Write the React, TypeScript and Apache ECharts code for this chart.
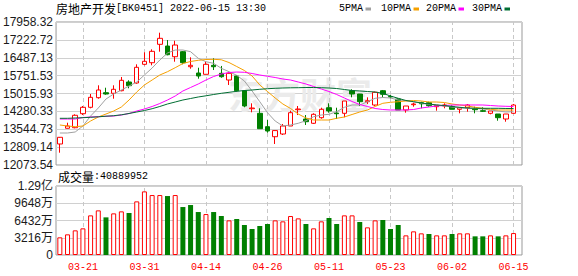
import React, { useEffect, useRef } from "react";
import * as echarts from "echarts";

const dates = [
  "03-16", "03-17", "03-18", "03-21", "03-22", "03-23", "03-24", "03-25", "03-28", "03-29",
  "03-30", "03-31", "04-01", "04-06", "04-07", "04-08", "04-11", "04-12", "04-13", "04-14",
  "04-15", "04-18", "04-19", "04-20", "04-21", "04-22", "04-25", "04-26", "04-27", "04-28",
  "04-29", "05-05", "05-06", "05-09", "05-10", "05-11", "05-12", "05-13", "05-16", "05-17",
  "05-18", "05-19", "05-20", "05-23", "05-24", "05-25", "05-26", "05-27", "05-30", "05-31",
  "06-01", "06-02", "06-06", "06-07", "06-08", "06-09", "06-10", "06-13", "06-14", "06-15",
];

const opens = [
  12938, 13584, 13608, 14185, 14448, 14843, 15049, 15024, 15131, 15489,
  15448, 16217, 16283, 17040, 16970, 16530, 16736, 16118, 15859, 15806,
  16176, 15847, 15571, 15736, 15131, 14390, 14201, 13650, 13238, 13349,
  13678, 14349, 13966, 13790, 14020, 14431, 14213, 14201, 15131, 14995,
  14678, 14542, 15131, 14892, 14790, 14337, 14555, 14637, 14637, 14473,
  14500, 14473, 14366, 14431, 14378, 14308, 14201, 14172, 13966, 14201,
];
const closes = [
  13213, 13678, 14119, 14448, 14859, 15160, 14995, 15189, 15559, 15337,
  16094, 16341, 16752, 17287, 16612, 17011, 16283, 16176, 15736, 16217,
  16118, 15707, 15847, 15131, 14501, 14419, 13567, 13473, 13490, 13678,
  14226, 14378, 13855, 14160, 14366, 14296, 14184, 14707, 14995, 14678,
  14719, 15065, 14983, 14872, 14337, 14501, 14584, 14592, 14514, 14530,
  14545, 14366, 14431, 14542, 14349, 14283, 14296, 14020, 14172, 14542,
];
const lows = [
  12580, 13575, 13584, 14131, 14406, 14802, 14966, 14802, 15106, 15230,
  15419, 16176, 16176, 16736, 16588, 16324, 16217, 16036, 15625, 15806,
  15982, 15666, 15366, 15090, 14448, 14242, 13567, 13403, 12938, 13308,
  13678, 14131, 13720, 13761, 13979, 14226, 13966, 14036, 14859, 14501,
  14584, 14501, 14859, 14818, 14337, 14226, 14473, 14407, 14473, 14308,
  14407, 14366, 14201, 14269, 14201, 14254, 14160, 13896, 13855, 14184,
];
const highs = [
  13225, 13814, 14160, 14501, 14995, 15353, 15254, 15353, 15695, 15559,
  16217, 16711, 16834, 17518, 17217, 17188, 16765, 16505, 16077, 16324,
  16464, 16150, 15900, 15777, 15160, 14612, 14407, 13925, 13490, 13761,
  14308, 14501, 14131, 14201, 14431, 14612, 14431, 14707, 15189, 14995,
  14859, 15090, 15160, 14954, 14818, 14501, 14637, 14678, 14678, 14542,
  14612, 14530, 14460, 14584, 14473, 14448, 14296, 14172, 14172, 14584,
];

const ma5 = [
  13390, 13390, 13432, 13678, 14090, 14419, 14789, 14995, 15160, 15324,
  15489, 15777, 16065, 16394, 16682, 16806, 16806, 16736, 16464, 16324,
  16258, 16053, 15913, 15765, 15530, 15119, 14678, 14226, 13884, 13678,
  13720, 13790, 13897, 14061, 14131, 14160, 14267, 14448, 14543, 14543,
  14678, 14818, 14851, 14831, 14748, 14720, 14678, 14613, 14563, 14543,
  14501, 14460, 14419, 14407, 14407, 14378, 14337, 14296, 14254, 14267,
];
const ma10 = [
  13720, 13678, 13650, 13678, 13884, 14049, 14172, 14296, 14460, 14748,
  15078, 15366, 15571, 15777, 15913, 16077, 16250, 16333, 16382, 16415,
  16423, 16403, 16291, 16127, 15962, 15736, 15366, 15098, 14831, 14584,
  14399, 14172, 14008, 13925, 13925, 13925, 13995, 14049, 14152, 14254,
  14337, 14481, 14613, 14654, 14678, 14707, 14728, 14707, 14666, 14666,
  14645, 14584, 14543, 14501, 14448, 14407, 14366, 14337, 14337, 14337,
];
const ma20 = [
  13966, 13966, 13966, 14028, 14049, 14061, 14078, 14090, 14131, 14193,
  14296, 14378, 14481, 14604, 14748, 14913, 15119, 15263, 15407, 15571,
  15715, 15818, 15880, 15900, 15888, 15839, 15777, 15724, 15674, 15612,
  15571, 15489, 15407, 15304, 15201, 15098, 14975, 14831, 14687, 14563,
  14481, 14399, 14357, 14337, 14337, 14337, 14357, 14419, 14460, 14501,
  14522, 14543, 14543, 14543, 14543, 14543, 14522, 14501, 14489, 14481,
];
const ma30 = [
  13995, 13995, 14008, 14020, 14036, 14057, 14082, 14102, 14139, 14193,
  14254, 14316, 14390, 14481, 14584, 14666, 14748, 14810, 14872, 14921,
  14975, 15024, 15065, 15106, 15139, 15160, 15189, 15213, 15230, 15242,
  15250, 15254, 15263, 15263, 15254, 15242, 15221, 15181, 15139, 15119,
  15098, 15078, 15024, 14913, 14818, 14728, 14678, 14625, 14584, 14543,
  14522, 14481, 14448, 14419, 14407, 14407, 14407, 14407, 14399, 14399,
];

const volumes = [
  32920000, 38500000, 45950000, 49680000, 73900000, 83210000, 70170000, 77630000, 81350000, 78250000,
  99980000, 118610000, 111780000, 111780000, 109920000, 111780000, 89420000, 93150000, 80110000, 76380000,
  80110000, 72660000, 64580000, 67070000, 55890000, 48440000, 54030000, 57750000, 64580000, 62720000,
  72660000, 68310000, 57750000, 49680000, 62720000, 68930000, 57750000, 73900000, 73900000, 61480000,
  51540000, 64580000, 65210000, 48440000, 55890000, 36640000, 44090000, 40370000, 39120000, 36640000,
  36640000, 39120000, 40370000, 40370000, 34780000, 34780000, 36640000, 34780000, 36640000, 40889952,
];
// 1 = red (up), -1 = green (down)
const volumeDir = [
  1, 1, 1, 1, 1, 1, -1, 1, 1, -1,
  1, 1, 1, 1, -1, 1, -1, -1, -1, 1,
  -1, -1, 1, -1, -1, -1, -1, -1, 1, 1,
  1, 1, -1, 1, 1, -1, -1, 1, 1, -1,
  1, 1, -1, -1, -1, 1, 1, 1, -1, 1,
  1, -1, 1, 1, -1, -1, 1, -1, 1, 1,
];

const priceTicks = [12073.54, 12809.14, 13544.73, 14280.33, 15015.93, 15751.53, 16487.13, 17222.72, 17958.32];
const volumeTicks = [0, 32160000, 64320000, 96480000, 128640000];
const volumeTickLabels = ["0", "3216万", "6432万", "9648万", "1.29亿"];
const xTickDates = ["03-21", "03-31", "04-14", "04-26", "05-11", "05-23", "06-02", "06-15"];

const maNames = ["5PMA", "10PMA", "20PMA", "30PMA"];
const maColors = ["#a0a0a0", "#f5a000", "#ff00ff", "#006e33"];
const maSeries = [ma5, ma10, ma20, ma30];

const titleName = "房地产开发";
const titleCode = "[BK0451] 2022-06-15 13:30";
const volumeTitle = "成交量";

const UP = "#ff0000";
const DOWN = "#008000";
const MONO = "Liberation Mono, DejaVu Sans Mono, monospace";
const CJK = "Noto Sans CJK SC";
const SANS = "Liberation Sans, Arial, Noto Sans CJK SC, sans-serif";

export default function App() {
  const ref = useRef<HTMLDivElement>(null);

  useEffect(() => {
    if (!ref.current) return;
    const chart = echarts.init(ref.current, undefined, { renderer: "svg" });

    const priceMin = priceTicks[0];
    const priceMax = priceTicks[priceTicks.length - 1];
    const priceStep = (priceMax - priceMin) / (priceTicks.length - 1);
    const volMax = volumeTicks[volumeTicks.length - 1];
    const volStep = volMax / (volumeTicks.length - 1);

    const plotLeft = 56;
    const frameW = 466;
    const dataW = 461.4;
    const mainTop = 22;
    const mainH = 143;
    const volTop = 186;
    const volH = 69;

    const dashLines = {
      silent: true,
      symbol: ["none", "none"],
      label: { show: false },
      lineStyle: { type: [4, 3], color: "#c8c8c8", width: 1 },
      emphasis: { disabled: true },
      animation: false,
      z: 1,
      data: xTickDates.map((d) => ({ xAxis: d })),
    };

    const legendStarts = [339, 381, 426, 472];
    const legendGraphics: any[] = [];
    maNames.forEach((name, i) => {
      legendGraphics.push({
        type: "text",
        x: legendStarts[i],
        y: 8.5,
        style: {
          text: name,
          fontFamily: MONO,
          fontSize: 10,
          fill: "#000",
          textVerticalAlign: "middle",
        },
      });
      legendGraphics.push({
        type: "rect",
        shape: { x: legendStarts[i] + name.length * 6 + 2.5, y: 7.5, width: 5.5, height: 3 },
        style: { fill: maColors[i] },
      });
    });

    const option: any = {
      animation: false,
      backgroundColor: "#ffffff",
      grid: [
        { left: plotLeft, top: mainTop, width: frameW, height: mainH, show: true, borderColor: "#999999", borderWidth: 1, backgroundColor: "transparent" },
        { left: plotLeft, top: mainTop, width: dataW, height: mainH },
        { left: plotLeft, top: volTop, width: frameW, height: volH, show: true, borderColor: "#999999", borderWidth: 1, backgroundColor: "transparent" },
        { left: plotLeft, top: volTop, width: dataW, height: volH },
      ],
      xAxis: [
        { type: "value", gridIndex: 0, min: 0, max: 1, show: false },
        {
          type: "category", gridIndex: 1, data: dates, boundaryGap: true,
          axisLine: { show: false }, axisTick: { show: false }, axisLabel: { show: false }, splitLine: { show: false },
        },
        { type: "value", gridIndex: 2, min: 0, max: 1, show: false },
        {
          type: "category", gridIndex: 3, data: dates, boundaryGap: true,
          axisLine: { show: false }, axisTick: { show: false }, splitLine: { show: false },
          axisLabel: {
            show: true,
            interval: (_idx: number, val: string) => xTickDates.includes(val),
            color: UP,
            fontFamily: MONO,
            fontSize: 10,
            margin: 7,
          },
        },
      ],
      yAxis: [
        {
          type: "value", gridIndex: 0, min: priceMin, max: priceMax, interval: priceStep,
          axisLine: { show: false }, axisTick: { show: false },
          axisLabel: {
            margin: 3,
            fontSize: 12,
            fontFamily: SANS,
            color: "#1a1a1a",
            formatter: (v: number) => {
              const k = Math.round((v - priceMin) / priceStep);
              return priceTicks[k] !== undefined ? priceTicks[k].toFixed(2) : "";
            },
          },
          splitLine: { show: true, lineStyle: { color: "#d0d0d0", width: 1 } },
        },
        { type: "value", gridIndex: 1, min: priceMin, max: priceMax, show: false, splitLine: { show: false } },
        {
          type: "value", gridIndex: 2, min: 0, max: volMax, interval: volStep,
          axisLine: { show: false }, axisTick: { show: false },
          axisLabel: {
            margin: 3,
            fontSize: 12,
            fontFamily: SANS,
            color: "#1a1a1a",
            formatter: (v: number) => {
              const k = Math.round(v / volStep);
              return volumeTickLabels[k] !== undefined ? volumeTickLabels[k] : "";
            },
          },
          splitLine: { show: true, lineStyle: { color: "#d0d0d0", width: 1 } },
        },
        { type: "value", gridIndex: 3, min: 0, max: volMax, show: false, splitLine: { show: false } },
      ],
      graphic: [
        {
          type: "text",
          x: 228,
          y: 93,
          z: 1,
          silent: true,
          style: {
            text: "东方财富",
            fontFamily: CJK,
            fontSize: 36,
            fontWeight: "bold",
            fill: "#ebebeb",
            textVerticalAlign: "middle",
          },
        },
        {
          type: "text",
          x: 56,
          y: 8.5,
          style: {
            text: "{a|" + titleName + "}{b|" + titleCode + "}",
            rich: {
              a: { fontFamily: CJK, fontSize: 12, fill: "#000" },
              b: { fontFamily: MONO, fontSize: 10, fill: "#000" },
            },
            textVerticalAlign: "middle",
          },
        },
        {
          type: "text",
          x: 58,
          y: 176.5,
          style: {
            text: "{a|" + volumeTitle + "}{b|:" + String(volumes[volumes.length - 1]) + "}",
            rich: {
              a: { fontFamily: CJK, fontSize: 12, fill: "#000" },
              b: { fontFamily: MONO, fontSize: 10, fill: "#000" },
            },
            textVerticalAlign: "middle",
          },
        },
        ...legendGraphics,
      ],
      series: [
        {
          type: "candlestick",
          name: "K",
          xAxisIndex: 1,
          yAxisIndex: 1,
          barWidth: 5,
          data: dates.map((_, i) => [opens[i], closes[i], lows[i], highs[i]]),
          itemStyle: {
            color: "#ffffff",
            color0: DOWN,
            borderColor: UP,
            borderColor0: DOWN,
            borderWidth: 1,
          },
          markLine: dashLines,
        },
        ...maSeries.map((arr, i) => ({
          type: "line",
          name: maNames[i],
          xAxisIndex: 1,
          yAxisIndex: 1,
          data: arr,
          showSymbol: false,
          symbol: "none",
          smooth: false,
          lineStyle: { color: maColors[i], width: 1 },
          itemStyle: { color: maColors[i] },
        })),
        {
          type: "bar",
          name: "VOL",
          xAxisIndex: 3,
          yAxisIndex: 3,
          barWidth: 5,
          data: volumes.map((v, i) => ({
            value: v,
            itemStyle:
              volumeDir[i] > 0
                ? { color: "#ffffff", borderColor: UP, borderWidth: 1 }
                : { color: DOWN, borderColor: DOWN, borderWidth: 0 },
          })),
          markLine: dashLines,
        },
      ],
    };

    chart.setOption(option);
    return () => {
      chart.dispose();
    };
  }, []);

  return (
    <div
      ref={ref}
      style={{ position: "absolute", left: 0, top: 0, width: 578, height: 276, background: "#fff" }}
    />
  );
}
